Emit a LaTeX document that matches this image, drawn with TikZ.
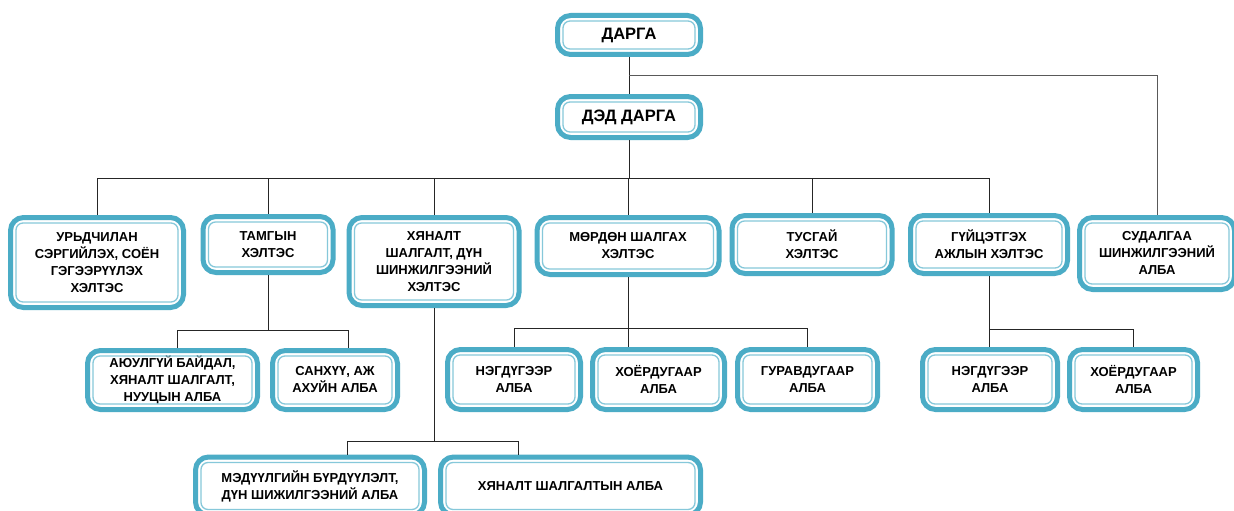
\documentclass[tikz,border=0pt]{standalone}
\usepackage{fontspec}
\setmainfont{Liberation Sans}
\definecolor{tealc}{HTML}{4BACC6}
\definecolor{tealin}{HTML}{86C8DA}
\newcommand\lvfont{\bfseries\fontsize{13}{17}\selectfont}
\newcommand\topfont{\bfseries\fontsize{16.5}{19}\selectfont}
\begin{document}
\begin{tikzpicture}[x=1pt,y=-1pt,
  box/.style={draw=tealc, line width=5pt, rounded corners=13pt, fill=white,
    align=center, font=\lvfont, inner sep=2pt},
  conn/.style={draw=black!85, line width=0.9pt},
  innerl/.style={draw=tealin, line width=1.3pt, rounded corners=7pt}]
\useasboundingbox (0,0) rectangle (1234,511);
\clip (0,0) rectangle (1234,511);
\fill[white] (0,0) rectangle (1234,511);

% top
\node[box, font=\topfont, minimum width=143pt, minimum height=39pt] (darga) at (629,35) {ДАРГА};
\node[box, font=\topfont, minimum width=143pt, minimum height=41pt] (dd) at (629,117) {ДЭД ДАРГА};

% level 2
\node[box, minimum width=173pt, minimum height=90pt] (ury) at (97,262.5) {УРЬДЧИЛАН\\СЭРГИЙЛЭХ, СОЁН\\ГЭГЭЭРҮҮЛЭХ\\ХЭЛТЭС};
\node[box, minimum width=130pt, minimum height=56pt] (tam) at (268,244.5) {ТАМГЫН\\ХЭЛТЭС};
\node[box, minimum width=170pt, minimum height=88pt] (hya) at (434,261.5) {ХЯНАЛТ\\ШАЛГАЛТ, ДҮН\\ШИНЖИЛГЭЭНИЙ\\ХЭЛТЭС};
\node[box, minimum width=182pt, minimum height=57pt] (mor) at (628,246) {МӨРДӨН ШАЛГАХ\\ХЭЛТЭС};
\node[box, minimum width=160pt, minimum height=58pt] (tus) at (812,244.5) {ТУСГАЙ\\ХЭЛТЭС};
\node[box, minimum width=157pt, minimum height=58pt] (gui) at (989,244.5) {ГҮЙЦЭТГЭХ\\АЖЛЫН ХЭЛТЭС};
\node[box, minimum width=155pt, minimum height=72pt] (sud) at (1157,253.5) {СУДАЛГАА\\ШИНЖИЛГЭЭНИЙ\\АЛБА};

% level 3
\node[box, minimum width=170pt, minimum height=59pt] (ayu) at (172.5,380) {АЮУЛГҮЙ БАЙДАЛ,\\ХЯНАЛТ ШАЛГАЛТ,\\НУУЦЫН АЛБА};
\node[box, minimum width=125pt, minimum height=59pt] (san) at (335,380) {САНХҮҮ, АЖ\\АХУЙН АЛБА};
\node[box, minimum width=133pt, minimum height=60pt] (mn1) at (514,379.5) {НЭГДҮГЭЭР\\АЛБА};
\node[box, minimum width=132pt, minimum height=60pt] (mn2) at (658.5,379.5) {ХОЁРДУГААР\\АЛБА};
\node[box, minimum width=140pt, minimum height=60pt] (mn3) at (807.5,379.5) {ГУРАВДУГААР\\АЛБА};
\node[box, minimum width=135pt, minimum height=60pt] (gn1) at (990,379.5) {НЭГДҮГЭЭР\\АЛБА};
\node[box, minimum width=128pt, minimum height=60pt] (gn2) at (1133.5,379.5) {ХОЁРДУГААР\\АЛБА};

% level 4
\node[box, minimum width=229pt, minimum height=58pt] (med) at (310,486) {МЭДҮҮЛГИЙН БҮРДҮҮЛЭЛТ,\\ДҮН ШИЖИЛГЭЭНИЙ АЛБА};
\node[box, minimum width=260pt, minimum height=58pt] (hsh) at (570.5,486) {ХЯНАЛТ ШАЛГАЛТЫН АЛБА};

\foreach \n in {darga,dd,ury,tam,hya,mor,tus,gui,sud,ayu,san,mn1,mn2,mn3,gn1,gn2,med,hsh}
  \draw[innerl] ([xshift=8pt,yshift=-8pt]\n.north west) rectangle ([xshift=-8pt,yshift=8pt]\n.south east);

% junctions
\coordinate (j1) at (629,75);
\coordinate (j2) at (629,178);
\coordinate (j3) at (268,330);
\coordinate (j4) at (628,328);
\coordinate (j5) at (989,329);
\coordinate (j6) at (434,441);

% connectors
\draw[conn] (darga) -- (dd);
\draw[conn, draw=black!65] (j1) -| (sud.north);
\draw[conn] (dd) -- (j2);
\foreach \n in {ury,tam,hya,mor,tus,gui} \draw[conn] (j2) -| (\n.north);
\draw[conn] (tam.south) -- (j3);
\draw[conn] (j3) -| ([xshift=4.5pt]ayu.north);
\draw[conn] (j3) -| ([xshift=13pt]san.north);
\draw[conn] (mor.south) -- (mor.south |- mn2.north);
\draw[conn] (j4) -| (mn1.north);
\draw[conn] (j4) -| (mn3.north);
\draw[conn] (gui.south) -- (gui.south |- gn1.north);
\draw[conn] (j5) -| (gn2.north);
\draw[conn] (hya.south) -- (j6);
\draw[conn] (j6) -| ([xshift=37pt]med.north);
\draw[conn] (j6) -| ([xshift=-52pt]hsh.north);
\end{tikzpicture}
\end{document}
